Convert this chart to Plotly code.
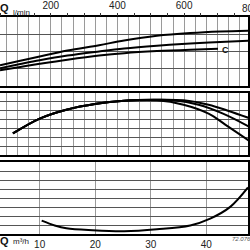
import plotly.graph_objects as go

# ---- data (flow Q in m3/h) ----
q_top1 = [2.86, 6.5, 10, 15, 20.7, 25.2, 31.1, 37.1, 42.5, 48.0]
p_top1 = [1.2, 1.46, 1.71, 2.05, 2.36, 2.63, 2.9, 3.06, 3.15, 3.2]
q_top2 = [2.86, 6.5, 10, 15, 20.7, 25.2, 31.1, 37.1, 42.5, 48.0]
p_top2 = [1.03, 1.27, 1.49, 1.76, 2.0, 2.17, 2.33, 2.46, 2.55, 2.63]
q_top3 = [2.86, 6.5, 10, 15, 20.7, 25.2, 31.1, 37.1, 42.1]
p_top3 = [0.91, 1.1, 1.28, 1.52, 1.76, 1.9, 2.02, 2.1, 2.15]

q_mid_a = [5.18, 10, 14.8, 20.2, 25.2, 30.5, 35.9, 40.4, 43.9, 48.0]
e_mid_a = [2.44, 4.11, 5.11, 5.78, 6.11, 6.22, 6.17, 5.67, 5.0, 4.1]
q_mid_b = [5.18, 10, 14.8, 20.2, 25.2, 30.5, 34.1, 38.6, 43.0, 48.0]
e_mid_b = [2.44, 4.11, 5.11, 5.78, 6.11, 6.22, 6.17, 5.67, 4.67, 3.1]
q_mid_c = [5.18, 10, 14.8, 20.2, 25.2, 31.1, 35.9, 40.4, 43.4, 48.0]
e_mid_c = [2.44, 4.11, 5.11, 5.78, 6.11, 6.17, 5.67, 4.67, 3.44, 1.5]

q_bot = [10.36, 12.7, 14.8, 19.5, 25.2, 31.1, 37.1, 40.7, 44.3, 47.5]
n_bot = [1.5, 0.97, 0.65, 0.43, 0.32, 0.54, 0.97, 1.73, 3.03, 5.19]

x_range = [2.857, 47.5]
lmin_ticks = [200, 400, 600]
lmin_text = ["200", "400", "600"]
m3h_ticks = [10, 20, 30, 40]
m3h_text = ["10", "20", "30", "40"]

FONT = "Liberation Sans"
fig = go.Figure()

line = dict(color="black", width=2, shape="spline", smoothing=1.0)
for q, v in [(q_top1, p_top1), (q_top2, p_top2), (q_top3, p_top3)]:
    fig.add_trace(go.Scatter(x=q, y=v, mode="lines", line=line, xaxis="x", yaxis="y", hoverinfo="skip"))
for q, v in [(q_mid_a, e_mid_a), (q_mid_b, e_mid_b), (q_mid_c, e_mid_c)]:
    fig.add_trace(go.Scatter(x=q, y=v, mode="lines", line=line, xaxis="x2", yaxis="y2", hoverinfo="skip"))
fig.add_trace(go.Scatter(x=q_bot, y=n_bot, mode="lines", line=line, xaxis="x3", yaxis="y3", hoverinfo="skip"))
# dummy trace for top l/min axis
fig.add_trace(go.Scatter(x=[x_range[0] * 16.667], y=[0], mode="markers", marker=dict(opacity=0),
                         xaxis="x4", yaxis="y", hoverinfo="skip"))

def H(y):
    return 1 - y / 250.0

xa = dict(range=x_range, dtick=2, tick0=0, showgrid=True, gridcolor="#9a9a9a", gridwidth=1,
          showline=True, linecolor="black", linewidth=2, mirror=True, showticklabels=False,
          ticks="", zeroline=False, fixedrange=True)
ya = dict(showgrid=True, gridcolor="#555555", gridwidth=1, dtick=1, showline=True,
          linecolor="black", linewidth=2, mirror=True, showticklabels=False, ticks="", zeroline=False)

fig.update_layout(
    width=250, height=250, margin=dict(l=0, r=0, t=0, b=0),
    paper_bgcolor="white", plot_bgcolor="white", showlegend=False,
    xaxis=dict(xa, domain=[0, 1], anchor="y"),
    xaxis2=dict(xa, domain=[0, 1], anchor="y2"),
    xaxis3=dict(xa, domain=[0, 1], anchor="y3", showticklabels=True, tickvals=m3h_ticks,
                ticktext=m3h_text, tickfont=dict(family=FONT, size=10, color="#222")),
    xaxis4=dict(range=[x_range[0] * 16.667, x_range[1] * 16.667], overlaying="x", anchor="y", side="top",
                tickvals=lmin_ticks, ticktext=lmin_text, ticks="outside", ticklen=3, tickcolor="#333",
                minor=dict(dtick=50, tick0=0, ticks="outside", ticklen=3, tickcolor="#333"),
                showgrid=False, zeroline=False, showline=False,
                tickfont=dict(family=FONT, size=10, color="#222"), fixedrange=True),
    yaxis=dict(ya, range=[0, 4], domain=[H(85), H(15)]),
    yaxis2=dict(ya, range=[0, 7], domain=[H(155), H(92)]),
    yaxis3=dict(ya, range=[0, 8], domain=[H(235), H(162)]),
)

x800 = (800 / 16.667 - x_range[0]) / (x_range[1] - x_range[0])
fig.add_annotation(x=x800, y=1, xref="paper", yref="paper", yanchor="top", xanchor="center", text="800",
                   showarrow=False, font=dict(family=FONT, size=10, color="#222"), yshift=1)
fig.add_annotation(x=-0.01, y=1.01, xref="paper", yref="paper", xanchor="left", yanchor="top",
                   text="<b>Q</b>", showarrow=False, font=dict(family=FONT, size=11, color="#111"))
fig.add_annotation(x=0.045, y=0.985, xref="paper", yref="paper", xanchor="left", yanchor="top",
                   text="l/min", showarrow=False, font=dict(family=FONT, size=8, color="#222"))
fig.add_annotation(x=42.4, y=2.1, xref="x", yref="y", xanchor="left", text="<b>C</b>", showarrow=False,
                   font=dict(family=FONT, size=9, color="#111"))
fig.add_annotation(x=-0.01, y=0.0, xref="paper", yref="paper", xanchor="left", yanchor="bottom",
                   text="<b>Q</b>", showarrow=False, font=dict(family=FONT, size=11, color="#111"))
fig.add_annotation(x=0.045, y=0.005, xref="paper", yref="paper", xanchor="left", yanchor="bottom",
                   text="m³/h", showarrow=False, font=dict(family=FONT, size=8, color="#222"))
fig.add_annotation(x=1.02, y=0.02, xref="paper", yref="paper", xanchor="right", yanchor="bottom",
                   text="<i>72.076</i>", showarrow=False, font=dict(family=FONT, size=6, color="#555"))

fig.write_html("out.html")
